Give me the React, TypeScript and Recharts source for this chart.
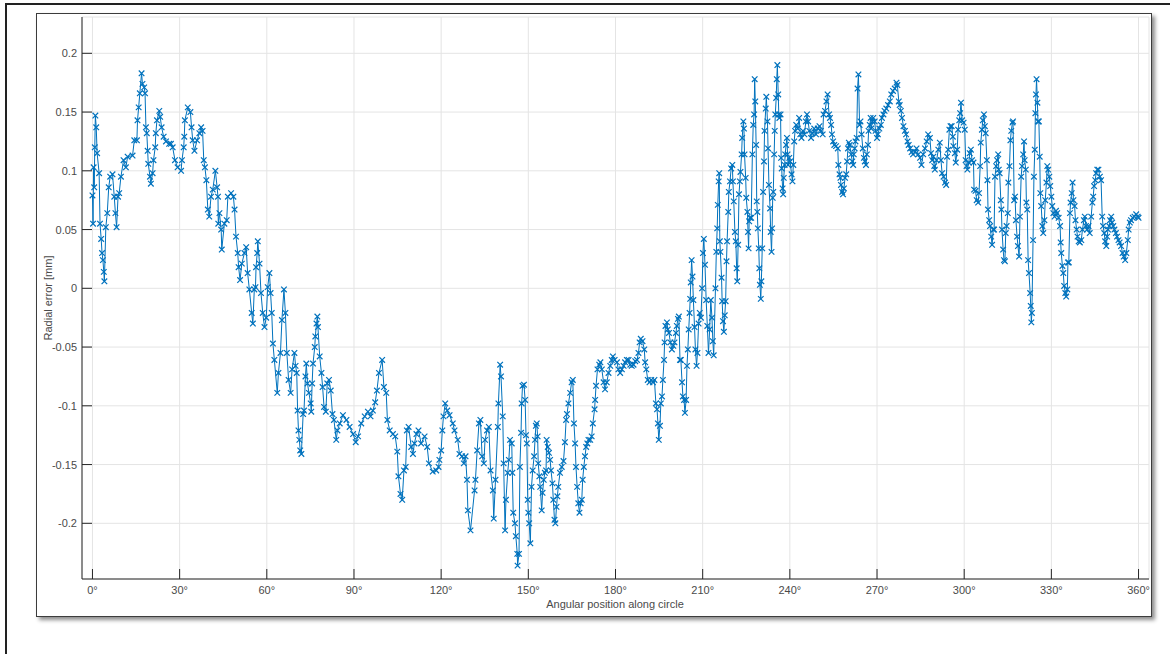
import React from 'react';
import { LineChart, Line, XAxis, YAxis, CartesianGrid } from 'recharts';

// Angular position [deg], radial error [mm]
const segment1: [number, number][] = [
  [0.0,0.079],[0.2,0.055],[0.4,0.103],[0.6,0.086],[0.8,0.120],[1.0,0.147],[1.3,0.137],[1.6,0.115],[2.3,0.098],[2.6,0.055],
  [3.0,0.042],[3.3,0.030],[3.6,0.024],[3.9,0.014],[4.1,0.006],[4.6,0.052],[5.1,0.064],[5.6,0.086],[6.1,0.095],[6.9,0.097],
  [7.5,0.078],[7.9,0.064],[8.3,0.052],[8.8,0.078],[9.2,0.081],[9.8,0.095],[10.7,0.109],[11.5,0.103],[12.1,0.112],[13.8,0.113],
  [14.4,0.126],[15.3,0.126],[15.5,0.143],[15.9,0.154],[16.3,0.166],[16.9,0.183],[17.2,0.174],[17.8,0.171],[18.1,0.166],[18.4,0.137],
  [18.7,0.132],[19.0,0.117],[19.2,0.106],[19.8,0.095],[20.1,0.089],[20.7,0.098],[21.0,0.109],[21.6,0.120],[21.8,0.132],[22.2,0.143],
  [23.0,0.151],[23.3,0.146],[23.8,0.137],[24.5,0.129],[25.3,0.125],[26.4,0.123],[27.0,0.123],[27.6,0.120],[28.4,0.109],[29.3,0.103],
  [30.5,0.100],[30.8,0.109],[31.4,0.120],[31.6,0.129],[31.8,0.143],[32.8,0.154],[33.7,0.150],[34.1,0.137],[34.5,0.126],[35.1,0.117],
  [36.0,0.126],[36.8,0.132],[37.4,0.137],[37.9,0.134],[38.3,0.109],[38.7,0.103],[39.2,0.092],[39.7,0.067],[40.2,0.061],[40.8,0.078],
  [41.4,0.084],[42.3,0.100],[42.9,0.086],[43.2,0.078],[43.3,0.055],[43.7,0.064],[44.3,0.050],[44.5,0.033],[45.4,0.055],[46.2,0.058],
  [46.6,0.078],[47.7,0.081],[48.5,0.078],[48.9,0.067],[49.4,0.044],[50.0,0.030],[50.3,0.018],[50.8,0.007],[51.4,0.021],[52.3,0.030],
  [52.9,0.035],[53.4,0.013],[54.0,-0.001],[54.8,-0.021],[55.2,-0.030],[55.7,-0.001],[56.1,0.001],[56.3,0.018],[56.7,0.030],[56.9,0.040],
  [57.5,0.021],[58.0,-0.004],[58.6,-0.021],[59.2,-0.033],[59.8,-0.025],[60.3,0.001],[60.9,0.013],[61.3,-0.004],[61.7,-0.021],[62.1,-0.047],
  [62.6,-0.061],[63.6,-0.089],[64.0,-0.072],[64.7,-0.055],[65.2,-0.027],[65.9,-0.001],[66.4,-0.021],[66.9,-0.055],[67.5,-0.078],[68.2,-0.089],
  [68.7,-0.069],[69.5,-0.055],[69.9,-0.066],[70.3,-0.072],[70.6,-0.104],[70.9,-0.121],[71.2,-0.129],[71.5,-0.138],[71.9,-0.141],
];

const segment2: [number, number][] = [
  [72.5,-0.107],[72.8,-0.104],[73.3,-0.075],[73.6,-0.064],[74.0,-0.081],[74.5,-0.089],[75.1,-0.098],[75.3,-0.105],[75.6,-0.081],[75.9,-0.064],
  [76.5,-0.050],[76.7,-0.041],[77.1,-0.030],[77.4,-0.024],[77.6,-0.033],[78.2,-0.058],[78.8,-0.072],[79.2,-0.084],[79.7,-0.101],[80.3,-0.105],
  [80.8,-0.081],[81.4,-0.078],[82.0,-0.087],[82.6,-0.107],[83.1,-0.112],[83.9,-0.129],[84.3,-0.121],[85.1,-0.115],[86.2,-0.108],[87.4,-0.112],
  [88.5,-0.118],[89.7,-0.124],[90.6,-0.131],[91.4,-0.126],[92.5,-0.115],[93.7,-0.109],[94.8,-0.105],[95.7,-0.109],[96.5,-0.104],[97.3,-0.097],
  [97.9,-0.087],[98.6,-0.072],[99.7,-0.061],[100.3,-0.084],[101.1,-0.089],[101.5,-0.112],[102.3,-0.121],[103.4,-0.124],[104.2,-0.126],[104.9,-0.139],
  [105.3,-0.160],[106.0,-0.175],[106.6,-0.180],[107.2,-0.155],[107.8,-0.152],[108.2,-0.121],[108.8,-0.118],[109.7,-0.135],[110.3,-0.141],[110.8,-0.132],
  [111.5,-0.124],[112.2,-0.121],[113.1,-0.132],[114.3,-0.126],[115.2,-0.135],[115.8,-0.149],[117.1,-0.156],[118.3,-0.155],[119.1,-0.152],[119.4,-0.146],
  [120.0,-0.138],[120.4,-0.121],[120.8,-0.109],[121.4,-0.098],[122.1,-0.104],[122.9,-0.108],[124.0,-0.115],[124.6,-0.121],[125.7,-0.129],[126.3,-0.141],
  [127.2,-0.143],[127.8,-0.149],[128.4,-0.143],[128.9,-0.163],[129.2,-0.189],[130.1,-0.206],[131.5,-0.172],[131.8,-0.163],[132.4,-0.138],[133.0,-0.115],
  [133.5,-0.112],[134.1,-0.143],[134.7,-0.149],[135.1,-0.129],[135.8,-0.121],[136.4,-0.118],[137.0,-0.155],[137.8,-0.172],[138.1,-0.196],[138.7,-0.163],
  [139.5,-0.118],[139.7,-0.098],[140.3,-0.065],[140.6,-0.075],[141.2,-0.109],[141.5,-0.149],[142.0,-0.206],
];

const segment3: [number, number][] = [
  [142.3,-0.180],[142.9,-0.157],[143.3,-0.146],[143.7,-0.129],[144.3,-0.132],[144.5,-0.157],[144.8,-0.191],[145.4,-0.200],[145.7,-0.211],[146.2,-0.226],
  [146.3,-0.236],[146.8,-0.226],[147.1,-0.152],[147.5,-0.123],[147.7,-0.098],[148.0,-0.083],[148.5,-0.082],[148.9,-0.095],[149.2,-0.125],[149.5,-0.132],
  [149.8,-0.180],[150.0,-0.191],[150.3,-0.200],[150.7,-0.217],[151.1,-0.169],[151.5,-0.155],[152.0,-0.143],[152.3,-0.129],[152.6,-0.117],[152.9,-0.115],
  [153.2,-0.126],[153.4,-0.149],[153.8,-0.160],[154.1,-0.169],[154.6,-0.189],[154.9,-0.174],[155.3,-0.163],[155.7,-0.157],[156.1,-0.155],[156.3,-0.129],
  [156.7,-0.135],[157.1,-0.140],[157.5,-0.146],[157.8,-0.155],[158.3,-0.166],[158.6,-0.180],[159.0,-0.197],[159.3,-0.200],[159.7,-0.186],[160.0,-0.177],
  [160.3,-0.169],[160.9,-0.157],[161.5,-0.152],[162.1,-0.147],[162.6,-0.131],[163.0,-0.112],[163.3,-0.107],[163.8,-0.098],[164.4,-0.089],[164.9,-0.080],
  [165.3,-0.078],[165.7,-0.115],[166.1,-0.132],[166.4,-0.152],[166.8,-0.169],[167.2,-0.183],[167.6,-0.191],[168.0,-0.183],[168.4,-0.180],[168.7,-0.163],
  [169.1,-0.152],[169.5,-0.143],[169.9,-0.135],[170.3,-0.132],[170.7,-0.129],[171.3,-0.129],[171.8,-0.126],[172.2,-0.115],[172.8,-0.103],[173.0,-0.095],
  [173.3,-0.083],[173.8,-0.069],[174.4,-0.065],[174.8,-0.063],[175.3,-0.069],[175.9,-0.080],[176.4,-0.086],[177.0,-0.080],[177.6,-0.072],[178.2,-0.066],
  [178.7,-0.061],[179.1,-0.058],[179.7,-0.061],[180.5,-0.063],[181.0,-0.069],[181.6,-0.072],[182.2,-0.069],[182.8,-0.066],[183.3,-0.063],[183.9,-0.061],
  [184.5,-0.061],[185.1,-0.065],[185.6,-0.066],[186.2,-0.065],[186.8,-0.062],[187.4,-0.061],[187.9,-0.055],[188.3,-0.046],[188.7,-0.043],[189.3,-0.045],
  [189.9,-0.052],[190.2,-0.063],[190.6,-0.069],[191.1,-0.078],[191.7,-0.080],[192.3,-0.078],[192.9,-0.080],[193.4,-0.078],[193.9,-0.098],[194.3,-0.103],
  [194.6,-0.115],[194.9,-0.129],[195.3,-0.117],[195.6,-0.098],[196.0,-0.092],[196.3,-0.078],[196.7,-0.061],[196.9,-0.046],[197.2,-0.032],[197.7,-0.029],
  [198.0,-0.035],[198.4,-0.038],[198.9,-0.046],[199.4,-0.052],[199.9,-0.049],[200.3,-0.046],[200.8,-0.038],[201.1,-0.032],[201.5,-0.026],[201.8,-0.024],
  [202.2,-0.061],[202.5,-0.061],[202.9,-0.080],[203.2,-0.092],[203.6,-0.095],[203.9,-0.106],[204.3,-0.095],[204.6,-0.066],[204.9,-0.052],[205.2,-0.035],
  [205.5,-0.021],[205.7,-0.009],
];

const segment4: [number, number][] = [
  [205.9,0.005],[206.2,0.024],[206.5,0.010],[206.8,-0.010],[207.2,-0.033],[207.5,-0.052],[207.9,-0.066],[208.2,-0.055],[208.6,-0.030],[209.0,-0.021],
  [209.4,-0.025],[209.8,0.000],[210.1,0.030],[210.4,0.042],[210.8,0.020],[211.2,-0.010],[211.6,-0.032],[212.0,-0.055],[212.4,-0.035],[212.8,-0.010],
  [213.2,-0.025],[213.5,-0.045],[213.8,-0.057],[214.4,0.000],[214.7,0.031],[215.0,0.051],[215.2,0.071],[215.5,0.091],[215.7,0.098],[215.9,0.040],
  [216.1,0.031],[216.5,0.009],[216.7,-0.011],[217.0,-0.028],[217.3,-0.037],[217.6,-0.023],[217.9,-0.011],[218.2,0.023],[218.4,0.040],[218.8,0.065],
  [219.0,0.082],[219.4,0.091],[219.8,0.102],[220.2,0.105],[220.4,0.091],[220.7,0.074],[221.1,0.048],[221.4,0.040],[221.7,0.017],[221.9,0.006],
  [222.2,0.037],[222.5,0.080],[222.8,0.091],[223.0,0.099],[223.4,0.114],[223.6,0.128],[224.0,0.142],[224.2,0.136],[224.4,0.114],[224.8,0.094],
  [225.0,0.077],[225.4,0.065],[225.6,0.048],[225.8,0.034],[226.0,0.057],[226.3,0.060],[226.7,0.060],[227.1,0.114],[227.4,0.139],[227.7,0.148],
  [227.9,0.178],[228.1,0.159],[228.4,0.122],[228.6,0.074],[228.8,0.065],[229.0,0.051],[229.3,0.034],[229.5,0.017],[229.7,0.003],[230.0,-0.009],
  [230.2,0.006],[230.5,0.034],[230.8,0.082],[231.1,0.108],[231.3,0.134],[231.7,0.153],[231.9,0.163],[232.3,0.142],[232.5,0.119],[232.8,0.088],
  [233.2,0.068],[233.4,0.048],[233.7,0.031],[233.9,0.051],[234.1,0.077],[234.3,0.082],[234.6,0.114],[234.8,0.134],[235.0,0.148],[235.3,0.162],
  [235.5,0.178],[235.7,0.190],[236.0,0.165],[236.2,0.148],[236.4,0.145],[236.8,0.148],[237.0,0.111],[237.2,0.102],[237.5,0.085],[237.7,0.080],
  [237.9,0.094],[238.2,0.105],[238.4,0.114],[238.7,0.122],[239.0,0.128],[239.2,0.114],[239.4,0.105],[239.8,0.111],[240.1,0.108],[240.6,0.097],
  [240.9,0.091],[241.2,0.105],[241.5,0.125],[241.8,0.134],[242.2,0.139],[242.7,0.136],[243.2,0.145],[243.6,0.131],[244.0,0.128],[244.5,0.134],
  [245.0,0.131],[245.5,0.142],[245.9,0.148],[246.3,0.142],[246.7,0.134],[247.3,0.128],[247.8,0.132],[248.4,0.136],[249.0,0.131],[249.6,0.136],
  [250.2,0.138],[250.7,0.134],[251.3,0.131],[251.6,0.148],[252.1,0.151],[252.6,0.159],[253.0,0.165],[253.5,0.148],[253.8,0.145],[254.2,0.139],
  [254.5,0.131],[254.9,0.125],[255.3,0.122],[255.9,0.121],[256.5,0.119],[256.7,0.105],[257.1,0.097],[257.4,0.094],[257.6,0.088],[258.0,0.082],
  [258.3,0.080],[258.6,0.085],[259.0,0.094],[259.4,0.097],[259.7,0.108],[260.0,0.119],[260.3,0.124],[260.6,0.122],[261.1,0.114],[261.5,0.108],
  [261.8,0.105],[262.0,0.114],[262.3,0.119],[262.6,0.125],[263.0,0.128],[263.3,0.170],[263.6,0.182],[264.0,0.139],[264.3,0.142],[264.7,0.131],
  [265.1,0.119],[265.5,0.111],[265.8,0.108],[266.2,0.105],[266.5,0.114],[266.9,0.122],[267.1,0.134],[267.5,0.139],[267.8,0.145],[268.0,0.136],
  [268.4,0.142],[268.7,0.145],[269.2,0.142],[269.5,0.134],[270.0,0.128],[270.3,0.131],[270.8,0.136],[271.3,0.139],[271.7,0.145],[272.2,0.148],
  [272.6,0.151],[273.2,0.153],[273.8,0.156],[274.4,0.159],[274.9,0.165],[275.5,0.168],[276.1,0.170],[276.7,0.175],[277.0,0.173],[277.5,0.159],
  [277.8,0.156],[278.2,0.151],[278.6,0.145],[279.1,0.138],[279.6,0.134],[280.0,0.131],[280.5,0.125],[280.9,0.122],[281.4,0.119],[281.9,0.116],
  [282.4,0.114],[283.0,0.116],[283.6,0.119],[284.2,0.114],[284.8,0.111],[285.3,0.105],[285.9,0.114],[286.5,0.119],[287.1,0.125],[287.6,0.131],
  [288.2,0.128],
];

const segment5: [number, number][] = [
  [288.6,0.115],[289.0,0.109],[289.4,0.112],[289.7,0.104],[289.9,0.101],[290.5,0.109],[291.1,0.118],[291.6,0.124],[292.0,0.109],[292.4,0.098],
  [292.9,0.095],[293.4,0.090],[293.8,0.088],[294.1,0.112],[294.5,0.118],[294.9,0.135],[295.3,0.138],[295.7,0.138],[296.1,0.129],[296.3,0.121],
  [296.8,0.115],[297.1,0.107],[297.6,0.118],[297.9,0.135],[298.3,0.143],[298.6,0.149],[298.9,0.158],[299.3,0.143],[299.8,0.141],[300.2,0.135],
  [300.5,0.109],[300.8,0.104],[301.1,0.101],[301.6,0.107],[301.9,0.115],[302.3,0.118],[302.7,0.109],[303.2,0.107],[303.4,0.084],[303.9,0.083],
  [304.3,0.075],[304.8,0.073],[305.1,0.081],[305.5,0.104],[305.7,0.124],[306.1,0.135],[306.4,0.143],[306.8,0.148],[307.1,0.138],[307.4,0.132],
  [307.8,0.109],[308.0,0.092],[308.2,0.067],[308.6,0.058],[308.9,0.053],[309.3,0.044],[309.6,0.037],[310.0,0.050],[310.3,0.050],[310.6,0.095],
  [311.0,0.104],[311.3,0.109],[311.7,0.114],[311.9,0.101],[312.2,0.098],[312.6,0.075],[312.8,0.067],[313.0,0.050],[313.4,0.033],[313.7,0.024],
  [314.0,0.023],[314.3,0.047],[314.6,0.053],[315.0,0.064],[315.2,0.090],[315.6,0.104],[315.9,0.126],[316.2,0.134],[316.6,0.141],[316.8,0.142],
  [317.2,0.075],[317.5,0.078],[317.8,0.058],[318.2,0.044],[318.5,0.036],[318.9,0.027],[319.2,0.061],[319.6,0.095],[319.9,0.104],[320.3,0.114],
  [320.6,0.125],[320.8,0.109],[321.2,0.101],[321.4,0.073],[321.7,0.067],[322.0,0.024],[322.3,0.013],[322.7,-0.004],[322.9,-0.015],[323.1,-0.029],
  [323.3,-0.021],[323.7,0.041],[324.0,0.095],[324.3,0.118],[324.5,0.149],[324.7,0.165],[324.9,0.178],[325.2,0.158],[325.4,0.142],[325.7,0.142],
  [326.0,0.112],[326.2,0.081],[326.5,0.070],[326.9,0.053],[327.2,0.047],[327.6,0.058],[327.9,0.075],[328.3,0.090],[328.6,0.104],[328.9,0.101],
  [329.3,0.095],[329.6,0.087],[330.0,0.078],[330.3,0.070],[330.7,0.064],[331.1,0.061],[331.6,0.066],[332.0,0.064],[332.5,0.060],[333.0,0.053],
  [333.2,0.039],[333.4,0.030],[333.8,0.019],[334.1,0.013],[334.4,0.002],[334.8,-0.004],[335.1,-0.007],[335.5,-0.001],[335.7,0.022],[336.0,0.022],
  [336.4,0.064],[336.6,0.073],[337.0,0.081],[337.3,0.090],[337.6,0.075],[338.0,0.070],[338.3,0.058],[338.7,0.050],[339.0,0.044],[339.4,0.040],
  [339.8,0.039],[340.3,0.041],[340.7,0.050],[341.2,0.058],[341.5,0.061],[341.9,0.053],[342.3,0.050],[342.8,0.053],[343.2,0.047],[343.7,0.061],
  [344.1,0.073],[344.4,0.078],[344.7,0.087],[345.1,0.092],[345.4,0.098],[345.8,0.101],[346.2,0.101],[346.7,0.095],[347.1,0.092],[347.5,0.061],
  [347.8,0.053],[348.2,0.047],[348.5,0.040],[348.9,0.036],[349.2,0.044],[349.5,0.050],[349.9,0.053],[350.2,0.058],[350.6,0.061],[350.9,0.056],
  [351.3,0.053],[351.7,0.050],[352.2,0.047],[352.6,0.044],[353.1,0.041],[353.5,0.039],[354.0,0.036],[354.5,0.030],[354.9,0.027],[355.4,0.024],
  [355.8,0.030],[356.3,0.041],[356.6,0.050],[357.0,0.056],[357.4,0.058],[358.0,0.060],[358.6,0.061],[359.2,0.063],[359.7,0.061],[360.0,0.060],
];

const xTicks = [0, 30, 60, 90, 120, 150, 180, 210, 240, 270, 300, 330, 360];
const yTicks = [-0.2, -0.15, -0.1, -0.05, 0, 0.05, 0.1, 0.15, 0.2];
const xDomain: [number, number] = [-3.6, 363.6];
const yDomain: [number, number] = [-0.2474, 0.2309];

const data = [...segment1, ...segment2, ...segment3, ...segment4, ...segment5].map(([a, e]) => ({ a, e }));

const BLUE = '#0072BD';
const AXIS = '#262626';
const TEXT = '#4a4a4a';
const FONT = '"Liberation Sans", Arial, Helvetica, sans-serif';
const TICK_MARGIN = 5;

const XTick = (p: any) => {
  const { x, y, payload } = p;
  const axisY = y - TICK_MARGIN;
  return (
    <g>
      <line x1={x} y1={axisY} x2={x} y2={axisY - 10} stroke={AXIS} strokeWidth={1} />
      <text x={x} y={axisY + 15} textAnchor="middle" fill={TEXT} fontSize={11} fontFamily={FONT}>
        {`${payload.value}°`}
      </text>
    </g>
  );
};

const fmtY = (v: number) => String(Math.round(v * 100) / 100);

const YTick = (p: any) => {
  const { x, y, payload } = p;
  const axisX = x + TICK_MARGIN;
  return (
    <g>
      <line x1={axisX} y1={y} x2={axisX + 10} y2={y} stroke={AXIS} strokeWidth={1} />
      <text x={x} y={y + 4} textAnchor="end" fill={TEXT} fontSize={11} fontFamily={FONT}>
        {fmtY(payload.value)}
      </text>
    </g>
  );
};

const XMarker = (p: any) => {
  const { cx, cy, index } = p;
  if (cx == null || cy == null) return <g key={`m-${index}`} />;
  const s = 2.8;
  return (
    <path
      key={`m-${index}`}
      d={`M${cx - s},${cy - s}L${cx + s},${cy + s}M${cx - s},${cy + s}L${cx + s},${cy - s}`}
      stroke={BLUE}
      strokeWidth={1.2}
      fill="none"
    />
  );
};

export default function App() {
  return (
    <div style={{ position: 'absolute', left: 0, top: 0, width: 1170, height: 654, background: '#fff', overflow: 'hidden' }}>
      {/* outer frame lines */}
      <div style={{ position: 'absolute', left: 5, top: 3, width: 1165, height: 1.5, background: '#222' }} />
      <div style={{ position: 'absolute', left: 5, top: 3, width: 1.5, height: 651, background: '#222' }} />
      {/* figure box with shadow */}
      <div
        style={{
          position: 'absolute',
          left: 36,
          top: 13,
          width: 1116,
          height: 604,
          boxSizing: 'border-box',
          border: '1.5px solid #3c3c3c',
          background: '#fff',
          boxShadow: '3px 3px 4px rgba(0,0,0,0.45)',
        }}
      />
      <div style={{ position: 'absolute', left: 0, top: 0 }}>
        <LineChart width={1170} height={654} data={data} margin={{ top: 17, left: 22, right: 21, bottom: 45 }}>
          <CartesianGrid stroke="#e4e4e4" strokeWidth={1} />
          <XAxis
            dataKey="a"
            type="number"
            domain={xDomain}
            ticks={xTicks}
            allowDataOverflow
            height={30}
            tickSize={0}
            tickMargin={TICK_MARGIN}
            tickLine={false}
            tick={XTick}
            axisLine={{ stroke: AXIS, strokeWidth: 1 }}
            interval={0}
          />
          <YAxis
            type="number"
            domain={yDomain}
            ticks={yTicks}
            allowDataOverflow
            width={60}
            tickSize={0}
            tickMargin={TICK_MARGIN}
            tickLine={false}
            tick={YTick}
            axisLine={{ stroke: AXIS, strokeWidth: 1 }}
            interval={0}
          />
          <Line
            type="linear"
            dataKey="e"
            stroke={BLUE}
            strokeWidth={1}
            dot={XMarker}
            activeDot={false}
            isAnimationActive={false}
          />
        </LineChart>
      </div>
      {/* axis labels */}
      <div
        style={{
          position: 'absolute',
          left: 515,
          width: 200,
          top: 598,
          textAlign: 'center',
          fontFamily: FONT,
          fontSize: 11,
          color: TEXT,
          whiteSpace: 'nowrap',
        }}
      >
        Angular position along circle
      </div>
      <div
        style={{
          position: 'absolute',
          left: 48,
          top: 298,
          transform: 'translate(-50%, -50%) rotate(-90deg)',
          fontFamily: FONT,
          fontSize: 11,
          color: TEXT,
          whiteSpace: 'nowrap',
        }}
      >
        Radial error [mm]
      </div>
    </div>
  );
}
